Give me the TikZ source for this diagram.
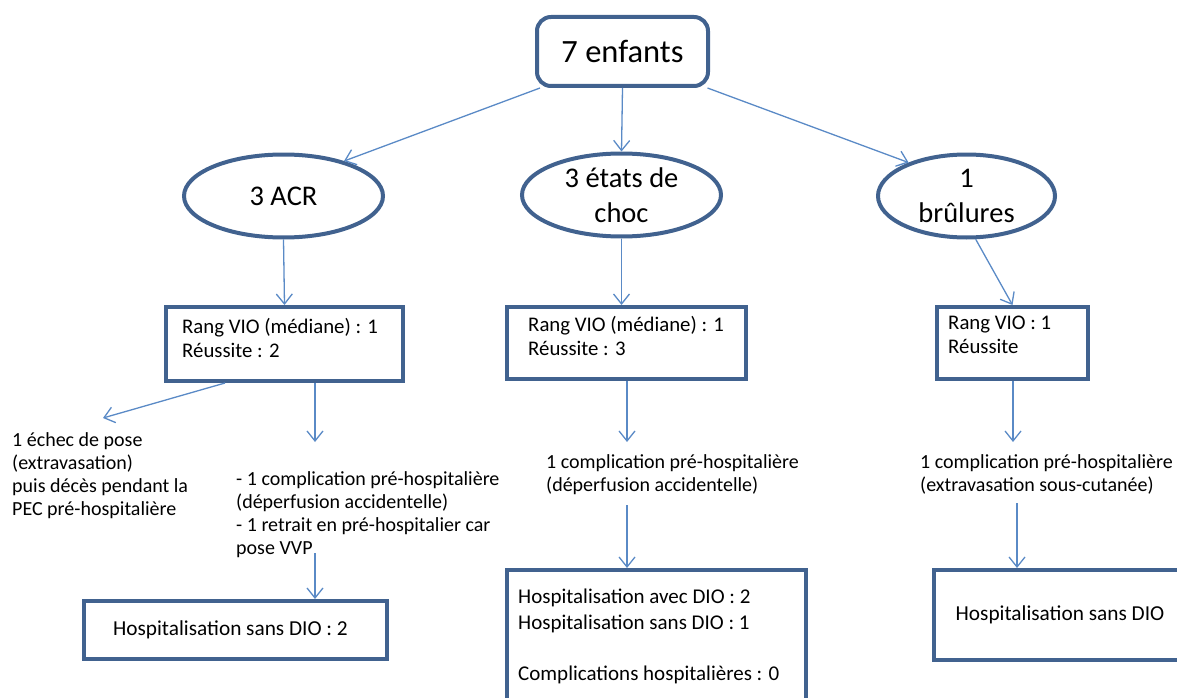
\documentclass[tikz,border=0pt]{standalone}
\usepackage{fontspec}
\setmainfont{Carlito}
\usetikzlibrary{shapes.geometric,arrows.meta,calc}
\definecolor{boxblue}{HTML}{41628F}
\definecolor{arrblue}{HTML}{5A8AC6}
\begin{document}
\begin{tikzpicture}[x=1pt,y=-1pt,
  boxst/.style={draw=boxblue,line width=4pt,fill=white,inner sep=0pt,font=\fontsize{21.3}{25}\selectfont},
  ell/.style={ellipse,draw=boxblue,line width=4pt,fill=white,inner sep=0pt,align=center,font=\fontsize{28.5}{35}\selectfont},
  txt/.style={inner sep=0pt,align=left,anchor=north west,font=\fontsize{20}{23.2}\selectfont},
  boxtxt/.style={inner sep=0pt,align=left,anchor=north west,font=\fontsize{20.8}{24}\selectfont},
  arr/.style={draw=arrblue,line width=1.3pt,-{Straight Barb[length=10pt,width=16pt]}}]
\useasboundingbox (0,0) rectangle (1177,698);

% top
\node[boxst,rounded corners=14pt,minimum width=171pt,minimum height=69pt,font=\fontsize{32.5}{38}\selectfont] (top) at (622.5,51.5) {7 enfants};

% ellipses
\node[ell,minimum width=199pt,minimum height=83pt] (acr) at (283.5,196) {3 ACR};
\node[ell,minimum width=199pt,minimum height=83pt] (choc) at (621.5,195) {3 états de\\choc};
\node[ell,minimum width=177pt,minimum height=83pt] (brul) at (966.5,196) {1\\brûlures};

% boxes
\node[boxst,minimum width=237pt,minimum height=74pt] (box1) at (284.5,344) {};
\node[boxst,minimum width=239pt,minimum height=72pt] (box2) at (626.5,343) {};
\node[boxst,minimum width=151pt,minimum height=72pt] (box3) at (1012.5,343) {};
\node[boxst,minimum width=303pt,minimum height=58pt] (box4) at (235.5,630) {\hspace*{-10pt}Hospitalisation sans DIO : 2};
\node[boxst,minimum width=299pt,minimum height=134pt] (box5) at (656.5,637) {};
\node[boxst,minimum width=246pt,minimum height=90pt] (box6) at (1057,615) {\hspace*{6pt}Hospitalisation sans DIO};

% box texts
\node[boxtxt] (b1t) at (182,318) {Rang VIO (médiane) : 1\\Réussite : 2};
\node[boxtxt] (b2t) at (528,316) {Rang VIO (médiane) : 1\\Réussite : 3};
\node[boxtxt] (b3t) at (948,316) {Rang VIO : 1\\Réussite};
\node[boxtxt,font=\fontsize{21}{25.5}\selectfont] (b5t) at (518,589) {Hospitalisation avec DIO : 2\\Hospitalisation sans DIO : 1\\[25.5pt]Complications hospitalières : 0};

% free texts
\node[txt] (t1) at (12,432) {1 échec de pose\\(extravasation)\\puis décès pendant la\\PEC pré-hospitalière};
\node[txt] (t2) at (236,471) {- 1 complication pré-hospitalière\\(déperfusion accidentelle)\\- 1 retrait en pré-hospitalier car\\pose VVP};
\node[txt] (t3) at (546,454) {1 complication pré-hospitalière\\(déperfusion accidentelle)};
\node[txt] (t4) at (920,454) {1 complication pré-hospitalière\\(extravasation sous-cutanée)};

% free ends
\coordinate (c1) at (103,418);
\coordinate (c2) at (315,442);
\coordinate (c3) at (315,553);
\coordinate (c4) at (627,442);
\coordinate (c5) at (627,505);
\coordinate (c6) at (1013,442);
\coordinate (c7) at (1017,503);

% connectors
\draw[arr] ([xshift=-82.5pt]top.south) -- (acr.30);
\draw[arr] (top.south) -- (choc.north);
\draw[arr] ([xshift=85pt]top.south) -- (brul.150);
\draw[arr] (acr.south) -- (box1.north);
\draw[arr] (choc.south) -- (choc.south |- box2.north);
\draw[arr] (brul.-78) -- (box3.north);
\draw[arr] ([xshift=-59.5pt]box1.south) -- (c1);
\draw[arr] (box1.south -| c2) -- (c2);
\draw[arr] (c3) -- (c3 |- box4.north);
\draw[arr] (box2.south -| c4) -- (c4);
\draw[arr] (c5) -- (c5 |- box5.north);
\draw[arr] (box3.south -| c6) -- (c6);
\draw[arr] (c7) -- (c7 |- box6.north);
\end{tikzpicture}
\end{document}
